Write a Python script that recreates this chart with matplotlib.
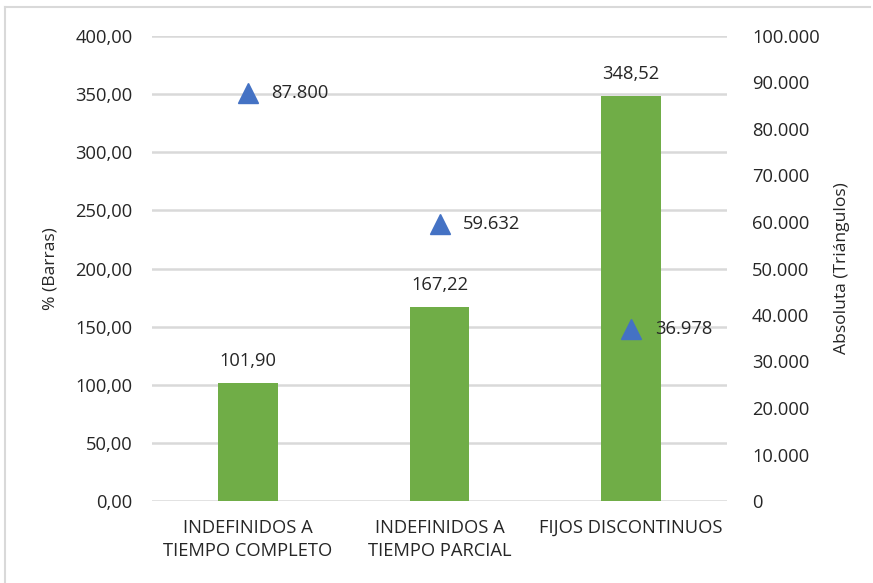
import matplotlib
matplotlib.use("Agg")
import matplotlib.pyplot as plt
from matplotlib.lines import Line2D
from matplotlib.ticker import FixedLocator

categories = ["INDEFINIDOS A\nTIEMPO COMPLETO", "INDEFINIDOS A\nTIEMPO PARCIAL", "FIJOS DISCONTINUOS"]
pct_values = [101.90, 167.22, 348.52]
abs_values = [87800, 59632, 36978]
left_ticks = [0, 50, 100, 150, 200, 250, 300, 350, 400]
right_ticks = [0, 10000, 20000, 30000, 40000, 50000, 60000, 70000, 80000, 90000, 100000]

plt.rcParams['font.family'] = ['Open Sans', 'DejaVu Sans']
TXT = '#262626'
GRID = '#D9D9D9'
FS = 13.2

def es_dec(v):
    return f"{v:,.2f}".replace(",", "X").replace(".", ",").replace("X", ".")

def es_int(v):
    return f"{int(v):,}".replace(",", ".")

fig = plt.figure(figsize=(8.73, 5.83), dpi=100)
ax = fig.add_axes([152/873, 1-501/583, (727-152)/873, (501-36)/583])
x = list(range(len(categories)))
ax.bar(x, pct_values, width=0.31, color='#70AD47', zorder=3)
ax.set_xlim(-0.5, 2.5)
ax.set_ylim(0, 400)
ax.yaxis.set_major_locator(FixedLocator(left_ticks))
ax.set_yticklabels([es_dec(v) for v in left_ticks])
ax.grid(axis='y', color=GRID, linewidth=1.8, zorder=0)
ax.set_axisbelow(True)
for s in ax.spines.values():
    s.set_visible(False)
ax.tick_params(axis='both', length=0, colors=TXT, labelsize=FS)
ax.tick_params(axis='y', pad=14)
ax.set_xticks(x)
ax.set_xticklabels(categories, fontsize=13.2, linespacing=1.38)
ax.tick_params(axis='x', pad=13)
for xi, v in zip(x, pct_values):
    ax.annotate(es_dec(v), (xi, v), xytext=(0, 9), textcoords='offset points',
                ha='center', va='bottom', fontsize=FS, color=TXT)
ax.set_ylabel("% (Barras)", fontsize=FS - 0.6, color=TXT, labelpad=12)

ax2 = ax.twinx()
ax2.set_ylim(0, 100000)
ax2.yaxis.set_major_locator(FixedLocator(right_ticks))
ax2.set_yticklabels([es_int(v) for v in right_ticks])
for s in ax2.spines.values():
    s.set_visible(False)
ax2.tick_params(axis='y', length=0, colors=TXT, labelsize=FS, pad=18)
ax2.plot(x, abs_values, linestyle='none', marker='^', markersize=15,
         color='#4472C4', zorder=4)
for xi, v in zip(x, abs_values):
    ax2.annotate(es_int(v), (xi, v), xytext=(17, 0), textcoords='offset points',
                 ha='left', va='center', fontsize=FS, color=TXT)
ax2.set_ylabel("Absoluta (Triángulos)", fontsize=FS - 0.6, color=TXT, labelpad=10)

fig.add_artist(Line2D([5/873, 870/873], [1-7/583, 1-7/583], color=GRID, linewidth=1.5))
fig.add_artist(Line2D([5/873, 5/873], [0, 1-7/583], color=GRID, linewidth=1.5))

fig.savefig("out.png", dpi=100)
